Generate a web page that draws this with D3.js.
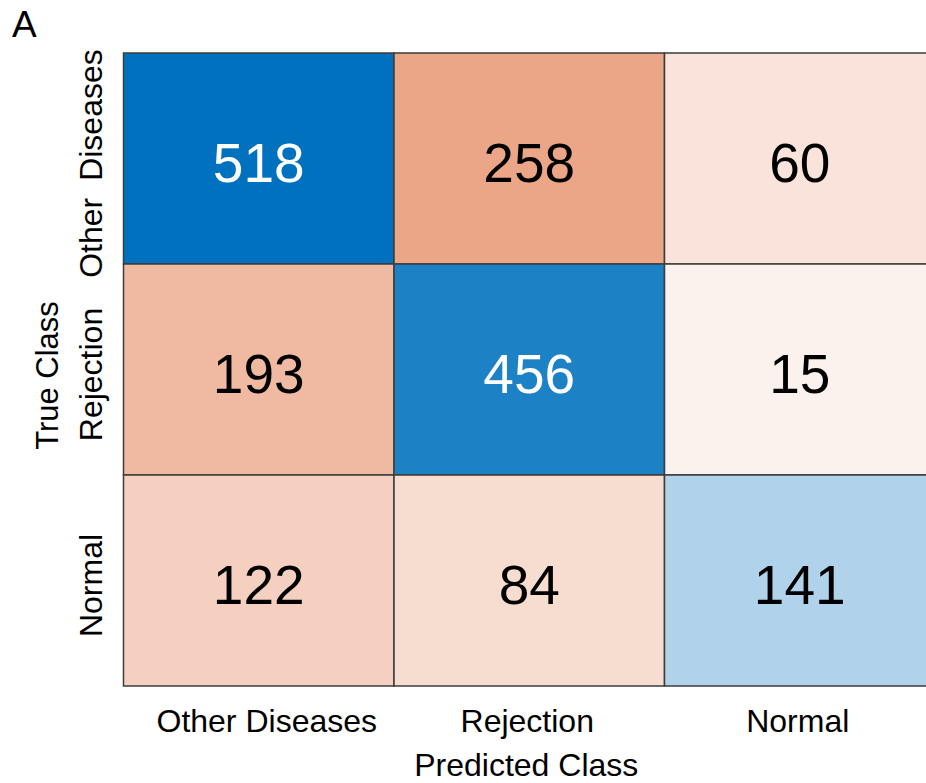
<!DOCTYPE html>
<html>
<head>
<meta charset="utf-8">
<script src="https://cdn.jsdelivr.net/npm/d3@7"></script>
<style>
  html, body { margin: 0; padding: 0; background: #fff; overflow: hidden; }
  svg { display: block; font-family: Arial, "Liberation Sans", Helvetica, sans-serif; }
</style>
</head>
<body>
<svg id="chart" width="926" height="783"></svg>
<script>
// ---- data ----
const trueClasses = ["Other Diseases", "Rejection", "Normal"];
const predictedClasses = ["Other Diseases", "Rejection", "Normal"];
const rowOtherDiseases = [518, 258, 60];
const rowRejection = [193, 456, 15];
const rowNormal = [122, 84, 141];
const counts = [rowOtherDiseases, rowRejection, rowNormal];

const panelLabel = "A";
const xTitle = "Predicted Class";
const yTitle = "True Class";

// ---- layout ----
const svg = d3.select("#chart");
const gridLeft = 123.5, gridTop = 53, colW = 270.5, rowH = 211;

const x = d3.scaleBand().domain(predictedClasses).range([gridLeft, gridLeft + colW * 3]);
const y = d3.scaleBand().domain(trueClasses).range([gridTop, gridTop + rowH * 3]);

const cells = [];
trueClasses.forEach((t, i) => predictedClasses.forEach((p, j) => {
  cells.push({ t, p, v: counts[i][j], diag: i === j });
}));
const maxV = d3.max(cells, d => d.v);

const diagColor = d3.rgb(0, 113, 190);
const offColor = d3.rgb(217, 83, 25);
const tScale = d3.scaleLinear().domain([0, maxV]).range([0.05, 1]);
const colorOf = d => d3.interpolateRgb("#ffffff", d.diag ? diagColor : offColor)(tScale(d.v));

const g = svg.append("g");
g.selectAll("rect.cell").data(cells).join("rect")
  .attr("class", "cell")
  .attr("x", d => x(d.p))
  .attr("y", d => y(d.t))
  .attr("width", x.bandwidth())
  .attr("height", y.bandwidth())
  .attr("fill", colorOf)
  .attr("stroke", "#3c3c3c")
  .attr("stroke-width", 1.5);

g.selectAll("text.val").data(cells).join("text")
  .attr("class", "val")
  .attr("x", d => x(d.p) + x.bandwidth() / 2)
  .attr("y", d => y(d.t) + y.bandwidth() / 2 + 23)
  .attr("text-anchor", "middle")
  .attr("font-size", 55)
  .attr("fill", d => (d.diag && tScale(d.v) > 0.6) ? "#ffffff" : "#000000")
  .text(d => d.v);

// x tick labels
const xShift = [8, -2, -2];
svg.selectAll("text.xt").data(predictedClasses).join("text")
  .attr("class", "xt")
  .attr("x", (d, i) => x(d) + x.bandwidth() / 2 + xShift[i])
  .attr("y", 732)
  .attr("text-anchor", "middle")
  .attr("font-size", 32)
  .attr("fill", "#000")
  .text(d => d);

// y tick labels (rotated)
svg.selectAll("text.yt").data(trueClasses).join("text")
  .attr("class", "yt")
  .attr("transform", d => `translate(102,${y(d) + y.bandwidth() / 2 + 5}) rotate(-90)`)
  .attr("text-anchor", "middle")
  .attr("font-size", 32)
  .attr("word-spacing", 8)
  .attr("fill", "#000")
  .text(d => d);

// axis titles
svg.append("text")
  .attr("x", gridLeft + colW * 1.5 - 3)
  .attr("y", 776)
  .attr("text-anchor", "middle")
  .attr("font-size", 32)
  .attr("fill", "#000")
  .text(xTitle);

svg.append("text")
  .attr("transform", `translate(58,${gridTop + rowH * 1.5 + 6}) rotate(-90)`)
  .attr("text-anchor", "middle")
  .attr("font-size", 31)
  .attr("fill", "#000")
  .text(yTitle);

// panel label
svg.append("text")
  .attr("x", 12)
  .attr("y", 37)
  .attr("font-size", 37)
  .attr("fill", "#000")
  .text(panelLabel);
</script>
</body>
</html>
